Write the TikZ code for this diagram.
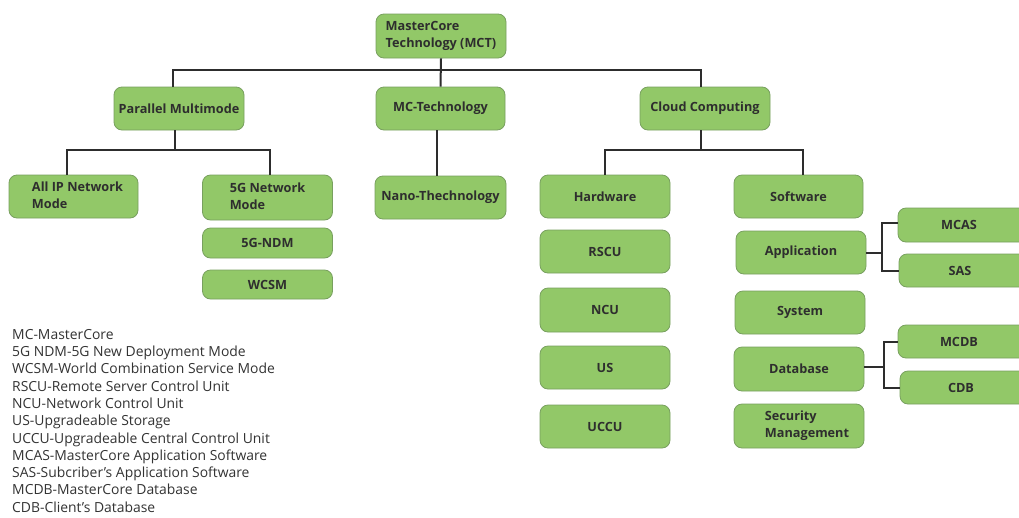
\documentclass[tikz,border=0pt]{standalone}
\usepackage{fontspec}
\setmainfont{Open Sans}
\definecolor{boxfill}{RGB}{146,200,104}
\definecolor{boxline}{RGB}{120,160,95}
\definecolor{wire}{RGB}{45,45,45}
\tikzset{
  box/.style={draw=boxline, line width=0.8pt, fill=boxfill, rounded corners=8pt,
    font=\fontsize{12.7}{17}\selectfont\bfseries, text=black!82, align=center, inner sep=2pt},
  wire/.style={draw=wire, line width=2pt},
}
\newcommand{\bx}[5]{\node[box, minimum width=#3pt, minimum height=#4pt] (#1) at (#2) {#5};}
\begin{document}
\begin{tikzpicture}[x=1pt,y=-1pt]
\clip (0,0) rectangle (1019,517);
\fill[white] (0,0) rectangle (1019,517);
\bx{MCT}{441,36}{130}{44}{\begin{tabular}{@{}l@{}}MasterCore\\Technology (MCT)\end{tabular}}
\bx{PM}{179,108.5}{130}{43}{Parallel Multimode}
\bx{MCTech}{440.5,108.5}{129}{43}{MC-Technology}
\bx{CC}{705,108.5}{130}{43}{Cloud Computing}
\bx{AllIP}{73.5,196.5}{129}{43}{\hspace*{8pt}\begin{tabular}{@{}l@{}}All IP Network\\Mode\end{tabular}}
\bx{FGNM}{267.5,197.5}{130}{45}{\begin{tabular}{@{}l@{}}5G Network\\Mode\end{tabular}}
\bx{FGNDM}{267.5,243}{130}{30}{5G-NDM}
\bx{WCSM}{267.5,284.5}{130}{29}{WCSM}
\bx{Nano}{440.5,197.5}{131}{43}{Nano-Thechnology}
\bx{HW}{605,196.5}{130}{43}{Hardware}
\bx{SW}{798.5,196.5}{129}{43}{Software}
\bx{RSCU}{605,251.5}{130}{43}{RSCU}
\bx{NCU}{605,310}{130}{44}{NCU}
\bx{US}{605,367.5}{130}{43}{US}
\bx{UCCU}{605,426.5}{130}{43}{UCCU}
\bx{App}{801,252.5}{130}{43}{Application}
\bx{Sys}{800,312.5}{130}{43}{System}
\bx{DB}{799,369}{130}{44}{Database}
\bx{Sec}{799,426}{130}{44}{\hspace*{16pt}\begin{tabular}{@{}l@{}}Security\\Management\end{tabular}}
\bx{MCAS}{964,225}{132}{34}{\hspace*{-10pt}MCAS}
\bx{SAS}{965,270.5}{132}{33}{\hspace*{-10pt}SAS}
\bx{MCDB}{964,341.5}{132}{33}{\hspace*{-10pt}MCDB}
\bx{CDB}{966,387.5}{132}{33}{\hspace*{-10pt}CDB}
% connectors
\coordinate (bus) at (441,70);
\draw[wire] (MCT.south) -- (MCTech.north);
\draw[wire] ([xshift=-6pt]PM.north) |- (bus) -| ([xshift=-4pt]CC.north);
\coordinate (b2) at (175,150);
\draw[wire] ([xshift=-4pt]PM.south) -- (b2);
\draw[wire] ([xshift=-6.5pt]AllIP.north) |- (b2) -| ([xshift=2.5pt]FGNM.north);
\draw[wire] ([xshift=-3.5pt]MCTech.south) -- ([xshift=-3.5pt]Nano.north);
\coordinate (b3) at (701,150);
\draw[wire] ([xshift=-4pt]CC.south) -- (b3);
\draw[wire] (HW.north) |- (b3) -| ([xshift=4.5pt]SW.north);
\coordinate (ab) at (882,252.5);
\draw[wire] (App.east) -- (ab);
\draw[wire] ([yshift=2pt]MCAS.west) -| (ab) |- (SAS.west);
\coordinate (db) at (884,367);
\draw[wire] (DB.east |- db) -- (db);
\draw[wire] (MCDB.west) -| (db) |- (CDB.west);
% legend
\node[anchor=north west, align=left, inner sep=0pt, text=black!80,
  font=\fontsize{13.9}{17.3}\selectfont] (legend) at (12,329) {MC-MasterCore\\
5G NDM-5G New Deployment Mode\\
WCSM-World Combination Service Mode\\
RSCU-Remote Server Control Unit\\
NCU-Network Control Unit\\
US-Upgradeable Storage\\
UCCU-Upgradeable Central Control Unit\\
MCAS-MasterCore Application Software\\
SAS-Subcriber's Application Software\\
MCDB-MasterCore Database\\
CDB-Client's Database};
\end{tikzpicture}
\end{document}
